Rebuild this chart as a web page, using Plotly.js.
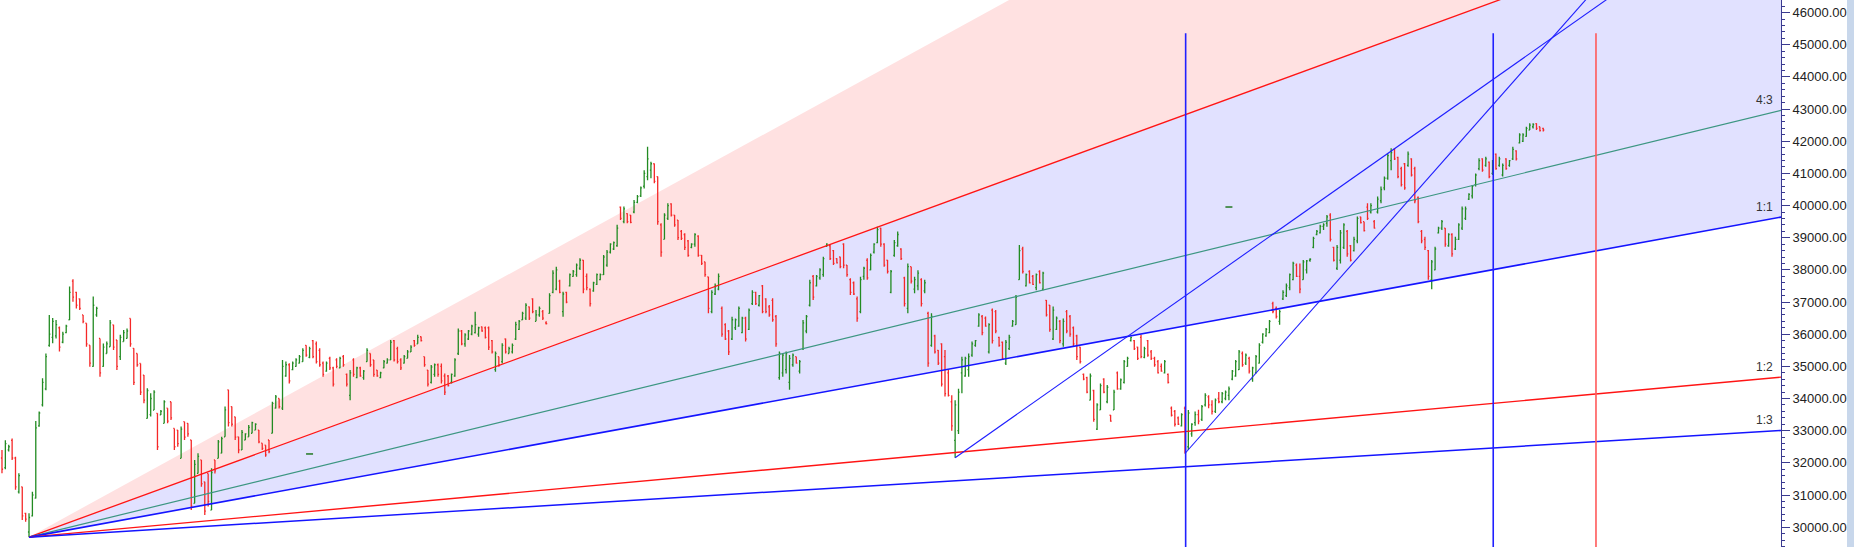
<!DOCTYPE html>
<html><head><meta charset="utf-8">
<script src="https://cdn.plot.ly/plotly-3.0.1.min.js"></script>
<style>html,body{margin:0;padding:0;background:#fff;}#chart{width:1854px;height:547px;}</style>
</head><body><div id="chart"></div>
<script>
// ---- daily OHLC bars ----
const open = [
32450,32150,31850,32400,32700,32150,31100,31250,30430,29850,30350,30900,33150,33800,34300,35650,35900,35950,36200,35750,
36050,36450,37650,37300,37100,36600,36340,35660,35000,36600,35870,35000,35400,35610,36290,35820,35300,35770,35870,36490,
35560,35400,35090,34730,33380,33500,33640,33540,33490,33230,33700,33900,33070,33020,32140,33280,33230,32710,30740,31670,
32090,31410,31670,30530,32090,32140,32300,32810,34270,33750,33430,32810,32400,32710,32810,32920,33020,33020,32610,32550,
32710,32920,
33700,34000,33700,34700,35050,34900,35000,35100,35150,35650,35280,35800,35700,35500,35100,34850,35250,34950,35200,34950,
35300,34750,34100,35200,34650,34950,34650,35150,35400,35200,34880,34650,34950,35100,35200,35800,35550,35200,35100,35250,
35450,35800,35700,35920,35300,34880,34500,34750,35050,35000,34700,34700,34500,34700,35400,36100,35700,35850,36000,36050,
36000,36230,36200,36200,35800,34900,35300,35150,35850,35400,35450,35850,36150,36450,
36500,36850,37100,36400,36600,36700,36350,36650,37300,37400,37650,36700,37300,37500,37800,37850,38050,38300,37800,37400,
37350,37550,37700,37850,38150,38550,38650,38750,39950,39500,39750,39700,39800,40100,40300,40600,40900,
41100,41300,40900,39400,38950,39600,40050,39700,39550,39200,39100,38900,38700,38800,39050,38450,38250,37780,36700,37250,
37400,36800,36300,36100,35850,36200,36250,36050,36500,36150,36950,37300,36900,37500,37100,36850,37050,36550,34650,34800,
34900,
34500,35050,35300,34850,35550,36100,36900,37800,37500,37750,37850,38730,38750,38600,38350,38400,38800,38150,37700,37600,
37100,36700,37800,38300,38000,38550,38850,39300,38800,38300,37300,38450,38750,38650,37750,36800,38100,37400,37500,37700,
37350,36650,35650,35950,35500,35700,35300,34800,33900,32700,33000,34800,34700,34900,35350,35650,36250,36550,36500,35450,
36750,36700,35900,35750,35100,35550,36250,36300,37700,38650,37500,37950,37800,37450,37950,37400,37050,36900,
35850,36150,36400,35700,36700,36550,36200,35950,35600,34750,34650,33950,34250,33050,33650,34600,33900,33480,33650,34800,
34300,34500,35000,35800,35800,35600,35900,35280,35800,35450,35250,35150,35000,34800,34750,33700,33600,33400,33150,33700,
32500,32900,
33250,33500,33350,33800,34050,33800,33600,34000,33900,34000,34100,34600,34700,34900,35400,35100,35250,34600,34800,35100,
35750,35950,36050,36950,36800,36400,37100,37200,37450,37700,38150,37800,37700,38000,38300,38700,39100,39150,39350,39450,
39700,38700,38050,38300,38700,39200,38750,38600,38900,39650,39500,39950,39800,39500,39800,40150,40550,40850,41400,41750,
41500,41150,41300,41250,41450,41150,40250,39200,38950,38600,37700,38000,39150,39300,39300,38750,39100,38650,38950,39300,
39600,40200,40300,40650,41150,41450,41250,41350,41000,41600,41250,40950,41450,41250,41450,41700,41950,42000,42150,42350,
42450,42550,42450,42400];
const high = [
32560,32400,32700,32560,32760,32190,31680,31260,30450,30430,31100,33300,33600,34630,35400,36600,36500,36440,36240,36080,
36290,37480,37710,37320,37110,36600,36340,35660,37170,36850,35870,35710,35770,36440,36290,35820,35980,36130,36180,36490,
35560,35400,35090,34730,34320,34160,34260,33540,33640,33950,33700,33900,33070,33020,33130,33280,33230,32710,32090,32300,
32090,31410,31670,31830,32090,32710,32810,33750,34270,33750,33430,32810,33020,32920,33180,33280,33230,33020,32610,32550,
32710,33900,
34110,34000,35200,35150,35100,35150,35250,35350,35560,35660,35610,35820,35770,35560,35150,35150,35300,34990,35250,35300,
35350,34780,34890,35250,34990,34990,34890,35560,35400,35200,34890,34830,35200,35250,35820,35820,35610,35250,35350,35510,
35660,35820,35980,35930,35300,34890,35040,35090,35090,35090,34780,34730,34780,35250,36180,36130,36030,36130,36290,36700,
36230,36240,36240,36240,35820,35460,35300,35720,35870,35610,35710,36390,36440,36700,
36960,36860,37120,36750,36860,36750,36400,37270,37990,38100,37690,37320,37320,37890,38000,38200,38360,38310,37890,37420,
37630,37890,37890,38460,38620,38830,38880,39400,39970,39970,39760,39710,40170,40330,40590,41100,41830,
41360,41310,40900,39450,39760,40070,40070,39710,39550,39240,39140,38930,38830,39140,39080,38460,38250,37790,37370,37580,
37890,36860,36340,36130,36540,36490,36860,36540,36540,36800,37370,37320,37220,37530,37120,36910,37120,36600,35460,35400,
35460,
35350,35400,35300,35200,36440,36600,37690,37840,37840,38050,38410,38830,38770,38620,38360,38410,38830,38150,37740,37640,
37170,37790,38100,38360,38510,38830,39340,39310,38830,38310,38000,38930,39190,38670,37790,38200,38100,37790,37990,37740,
37690,36700,36650,35980,35510,35720,35510,34890,34100,33950,34300,35300,35300,35400,35770,35820,36650,36600,36550,36340,
36800,36750,35920,35770,35820,35980,36440,37220,38770,38720,37890,37990,37840,37890,37990,37940,37060,36910,
36860,36550,36440,36490,36750,36600,36240,35980,35610,34780,34680,34780,34270,33850,34470,34630,34420,33490,34270,34840,
34620,35200,35300,35920,35820,35610,35980,35610,35820,35510,35300,35200,35090,35200,34780,33750,33640,33440,33540,33750,
33640,33230,
33600,33650,33800,34160,34100,33950,34000,34200,34200,34250,34370,34890,35200,35510,35460,35400,35300,34990,35350,35720,
36030,36190,36440,37010,36860,36760,37370,37580,37890,38250,38200,38200,38310,38310,38360,39030,39240,39400,39450,39710,
39760,38720,38770,39240,39450,39240,38770,39030,39660,39650,39500,40070,40070,39550,40280,40590,40900,41620,41780,41780,
41520,41210,41320,41680,41470,41210,40280,39240,39030,38620,38310,38720,39340,39550,39300,39140,39140,39030,39450,39970,
39970,40380,40640,41000,41470,41470,41520,41370,41420,41620,41520,41310,41470,41420,41830,41720,42250,42250,42450,42560,
42560,42560,42450,42420];
const low = [
32090,31680,31800,32350,32090,31160,31050,30220,30170,29690,30330,30890,33120,33750,34260,35610,35720,35870,35460,35720,
36030,36440,37010,36800,36750,36340,35610,34990,34990,36540,34680,34990,35400,35610,35510,34890,35200,35770,35870,35610,
34420,34990,34110,33850,33380,33440,33640,32400,33490,33230,33230,33330,32400,32500,32140,32710,32810,30530,30740,31670,
31260,30380,30640,30530,31670,32140,32300,32810,33130,33130,32710,32300,32400,32710,32810,32920,33020,32610,32400,32190,
32300,32920,
33690,33690,33640,34680,34470,34880,34990,35090,35140,35300,35250,35250,35090,34990,34680,34830,34890,34370,34940,34940,
34990,34370,33950,34680,34630,34680,34580,35140,34990,34680,34680,34630,34940,35090,35200,35150,35090,34890,35090,35250,
35450,35610,35700,35770,34990,34370,34470,34680,34680,34470,34110,34370,34470,34680,35350,35660,35610,35820,35970,36020,
35920,36080,35870,35510,35400,34830,34990,35090,35400,35400,35400,35820,36130,36440,
36440,36440,36650,36400,36540,36440,36300,36640,37270,37370,37270,36540,36960,37480,37790,37790,38000,37270,37370,36860,
37320,37530,37680,37840,38100,38510,38620,38720,39550,39450,39450,39450,39760,40070,40270,40530,40790,
40850,40690,39400,38410,38950,39550,39660,39340,38930,38930,38620,38410,38670,38720,38410,38150,37790,36650,36650,37220,
37370,35920,35820,35350,35820,36130,36230,36030,35770,36130,36910,36910,36860,36650,36650,36540,36390,35610,34580,34680,
34780,
34270,34990,35090,34780,35510,36030,36860,37060,37480,37690,37790,38720,38310,38150,38200,38050,38050,37790,37220,37220,
36390,36650,37690,37690,37990,38510,38830,38720,38100,37890,37270,38410,38720,38310,36860,36650,37580,37270,37370,36860,
37270,34990,35610,35400,35040,34370,34060,34060,33000,32160,32900,34160,34680,34680,35300,35610,36230,35970,36230,35400,
35710,36030,35610,35200,35040,35510,36230,36290,37690,37890,37480,37580,37530,37370,37580,37370,36550,36080,
35820,36130,35720,35610,36030,35920,35610,35200,35090,34570,34160,33950,33280,33020,33640,34160,33850,33280,33640,34270,
34270,34470,34990,35770,35510,35200,35250,35250,35300,35200,34990,34780,34830,34780,34470,33440,33130,33180,33130,32290,
32400,32810,
33150,33200,33300,33750,33700,33500,33550,33850,33850,33950,33950,34570,34680,34890,34990,35040,34780,34520,34780,35090,
35710,35920,36030,36650,36490,36290,37060,37160,37370,37680,37780,37270,37690,37890,38250,38670,39080,39130,39240,39340,
38880,38260,38000,38200,38650,38410,38260,38570,38830,39440,39190,39550,39750,39290,39750,40070,40480,40800,41100,41420,
40850,40590,40490,41210,40900,40070,39450,38830,38620,37690,37400,37990,39130,39240,38720,38720,38410,38620,38930,39240,
39550,40170,40220,40590,41100,41050,41210,40850,40950,41110,41210,40900,41110,41210,41420,41400,41930,41980,42140,42350,
42400,42350,42300,42300];
const close = [
32150,31800,32600,32500,32150,31250,31600,30350,30250,30300,31000,33090,33550,34500,35300,36000,36400,36300,35600,36000,
36250,37300,37150,36900,36800,36400,35700,35100,36900,36800,34800,35600,35700,36350,35600,35000,35900,36050,36100,35700,
34500,35050,34200,33950,34250,34000,34200,32500,33600,33900,33300,33400,32500,32600,33050,32800,32900,30650,31950,32200,
31350,30500,30800,31700,31750,32650,32750,33650,33250,33200,32800,32400,32950,32900,33100,33250,33200,32650,32450,32250,
32350,33850,
34050,33750,35000,35050,34550,35100,35200,35300,35500,35350,35550,35300,35150,35050,34750,35100,34950,34450,35000,35250,
35050,34450,34800,34750,34950,34700,34850,35500,35050,34750,34700,34800,35150,35200,35750,35200,35150,34950,35300,35450,
35600,35650,35900,35800,35050,34450,34980,35050,34750,34550,34200,34400,34750,35200,36100,35700,35980,36100,36250,36300,
36200,36100,35900,35600,35450,35400,35050,35650,35450,35550,35650,36300,36400,36650,
36900,36500,36700,36600,36800,36500,36330,37200,37900,38000,37300,37250,37000,37850,37950,38150,38300,37400,37450,36950,
37600,37850,37850,38400,38550,38800,38850,39300,39600,39900,39500,39480,40100,40280,40550,41000,41450,
41300,40750,39500,38550,39700,40000,39700,39400,39000,38980,38700,38450,38800,39100,38450,38200,37850,36800,37300,37500,
37800,36000,35850,35450,36450,36450,36800,36500,35850,36750,37300,36950,37200,36700,36700,36600,36450,35700,35400,35350,
35400,
35250,35350,35100,35150,36350,36550,37600,37150,37800,38000,38350,38800,38350,38200,38220,38100,38150,37850,37300,37250,
36500,37700,38050,37750,38450,38800,39250,38800,38150,37950,37950,38850,39100,38350,36950,38100,37650,37700,37900,36950,
37600,35100,36550,35450,35100,34450,34150,34100,33150,33800,34200,35200,35250,35300,35700,35800,36600,36050,36250,36300,
35800,36100,35650,35250,35750,35900,36400,37150,38600,37950,37850,37600,37550,37850,37600,37900,36600,36150,
36750,36500,35800,36400,36100,36000,35700,35300,35150,34600,34200,34700,33350,33800,34400,34200,34350,33300,34200,34300,
34580,35150,35250,35900,35550,35250,35300,35550,35350,35250,35050,34800,34850,35150,34500,33480,33200,33200,33500,32400,
33550,33200,
33500,33300,33750,34100,33800,33600,33950,33900,34150,34200,34300,34850,35150,35450,35050,35350,34850,34950,35300,35650,
36000,36150,36400,36700,36550,36700,37300,37500,37850,38200,37800,37400,38250,38280,38330,38980,39200,39350,39400,39650,
38950,38300,38700,39150,39400,38500,38300,38950,39600,39470,39220,39600,40000,39300,40200,40500,40850,41550,41650,41450,
40900,40650,40550,41600,40950,40150,39500,38900,38700,37800,38250,38650,39300,39500,38800,39100,38500,38950,39400,39900,
39900,40350,40600,40950,41400,41100,41450,40900,41350,41150,41450,41250,41150,41400,41750,41450,42200,42200,42400,42500,
42520,42400,42330,42350];
const barNo = open.map((_, i) => i);   // one category per trading day

// ---- Gann fan drawn from the swing low ----
const fanOriginBar = 9;
const fanOriginPrice = 29690;
const fanUnit = 19.2;                       // price per bar on the 1:1 line
const fanNames = ['3:1', '2:1', '4:3', '1:1', '1:2', '1:3'];
const fanMult  = [3, 2, 4/3, 1, 1/2, 1/3];
const fanLabelled = ['4:3', '1:1', '1:2', '1:3'];

// ---- trend lines, vertical markers, stray ticks ----
const trendA = [[283, 32160], [480, 46720]];
const trendB = [[351, 32290], [470, 46450]];
const vBars = [351.2, 442.2, 472.6];
const vColors = ['#2020ff', '#2020ff', '#ff5a5a'];
const vTop = 45356;
const strayBars = [92, 364];
const strayPrices = [32276, 39955];

const X0 = 0.414, X1 = 527.34, Y0 = 29383, Y1 = 46392;
const farBar = 560;
const fanAt = (m, b) => fanOriginPrice + m * fanUnit * (b - fanOriginBar);

const traces = [];
traces.push({type:'ohlc', x:barNo, open:open, high:high, low:low, close:close,
  increasing:{line:{color:'rgb(34,139,34)', width:1.3}},
  decreasing:{line:{color:'rgb(245,40,40)', width:1.3}},
  tickwidth:0.32, hoverinfo:'skip'});

const fanColor = {'2:1':'rgb(255,20,20)', '4:3':'rgb(60,150,130)', '1:1':'rgb(20,20,255)', '1:2':'rgb(255,20,20)', '1:3':'rgb(20,20,255)'};
const fanWidth = {'2:1':1.3, '4:3':1.2, '1:1':1.6, '1:2':1.4, '1:3':1.5};
fanNames.forEach((n, k) => {
  if (!fanColor[n]) return;
  traces.push({type:'scatter', mode:'lines', x:[fanOriginBar, farBar],
    y:[fanOriginPrice, fanAt(fanMult[k], farBar)], line:{color:fanColor[n], width:fanWidth[n]}, hoverinfo:'skip'});
});
[trendA, trendB].forEach(t => traces.push({type:'scatter', mode:'lines', x:[t[0][0], t[1][0]], y:[t[0][1], t[1][1]],
  line:{color:'rgb(30,30,255)', width:1.1}, hoverinfo:'skip'}));
vBars.forEach((b, k) => traces.push({type:'scatter', mode:'lines', x:[b, b], y:[Y0, vTop],
  line:{color:vColors[k], width:1.6}, hoverinfo:'skip'}));
traces.push({type:'scatter', mode:'markers', x:strayBars, y:strayPrices,
  marker:{symbol:'line-ew', size:5, line:{width:1.5, color:'rgb(34,120,34)'}}, hoverinfo:'skip'});

const annotations = fanLabelled.map(n => ({
  xref:'paper', x:1, xanchor:'right', xshift:-6,
  yref:'y', y:fanAt(fanMult[fanNames.indexOf(n)], X1), yanchor:'bottom', yshift:1,
  text:n, showarrow:false, font:{family:'Liberation Sans, Arial, sans-serif', size:12, color:'#333'}
}));

// fan shading as shapes below the bars
const wedge = (mA, mB, color) => ({type:'path', xref:'x', yref:'y', layer:'below', line:{width:0}, fillcolor:color,
  path:`M ${fanOriginBar},${fanOriginPrice} L ${farBar},${fanAt(mA, farBar)} L ${farBar},${fanAt(mB, farBar)} Z`});

const axisCol = '#3a3a90';
const layout = {
  width:1854, height:547, margin:{l:0, r:73, t:0, b:0},
  paper_bgcolor:'#ffffff', plot_bgcolor:'#ffffff', showlegend:false,
  xaxis:{range:[X0, X1], visible:false, rangeslider:{visible:false}, fixedrange:true},
  yaxis:{side:'right', range:[Y0, Y1], tickmode:'linear', tick0:30000, dtick:1000, tickformat:'.2f',
    ticks:'outside', ticklen:8, tickcolor:axisCol, showline:true, linecolor:axisCol, linewidth:1,
    showgrid:false, zeroline:false,
    tickfont:{family:'Liberation Sans, Arial, sans-serif', size:13, color:'#222'},
    minor:{ticks:'outside', ticklen:3, dtick:200, tickcolor:axisCol, showgrid:false}},
  annotations:annotations,
  shapes:[
    wedge(3, 2, 'rgb(255,225,225)'),
    wedge(2, 1, 'rgb(225,225,255)'),
    {type:'rect', xref:'paper', yref:'paper', x0:1847/1781, x1:1854/1781, y0:0, y1:1,
     fillcolor:'rgb(200,215,235)', line:{width:0}, layer:'above'}]
};
Plotly.newPlot('chart', traces, layout, {staticPlot:true});
</script></body></html>
